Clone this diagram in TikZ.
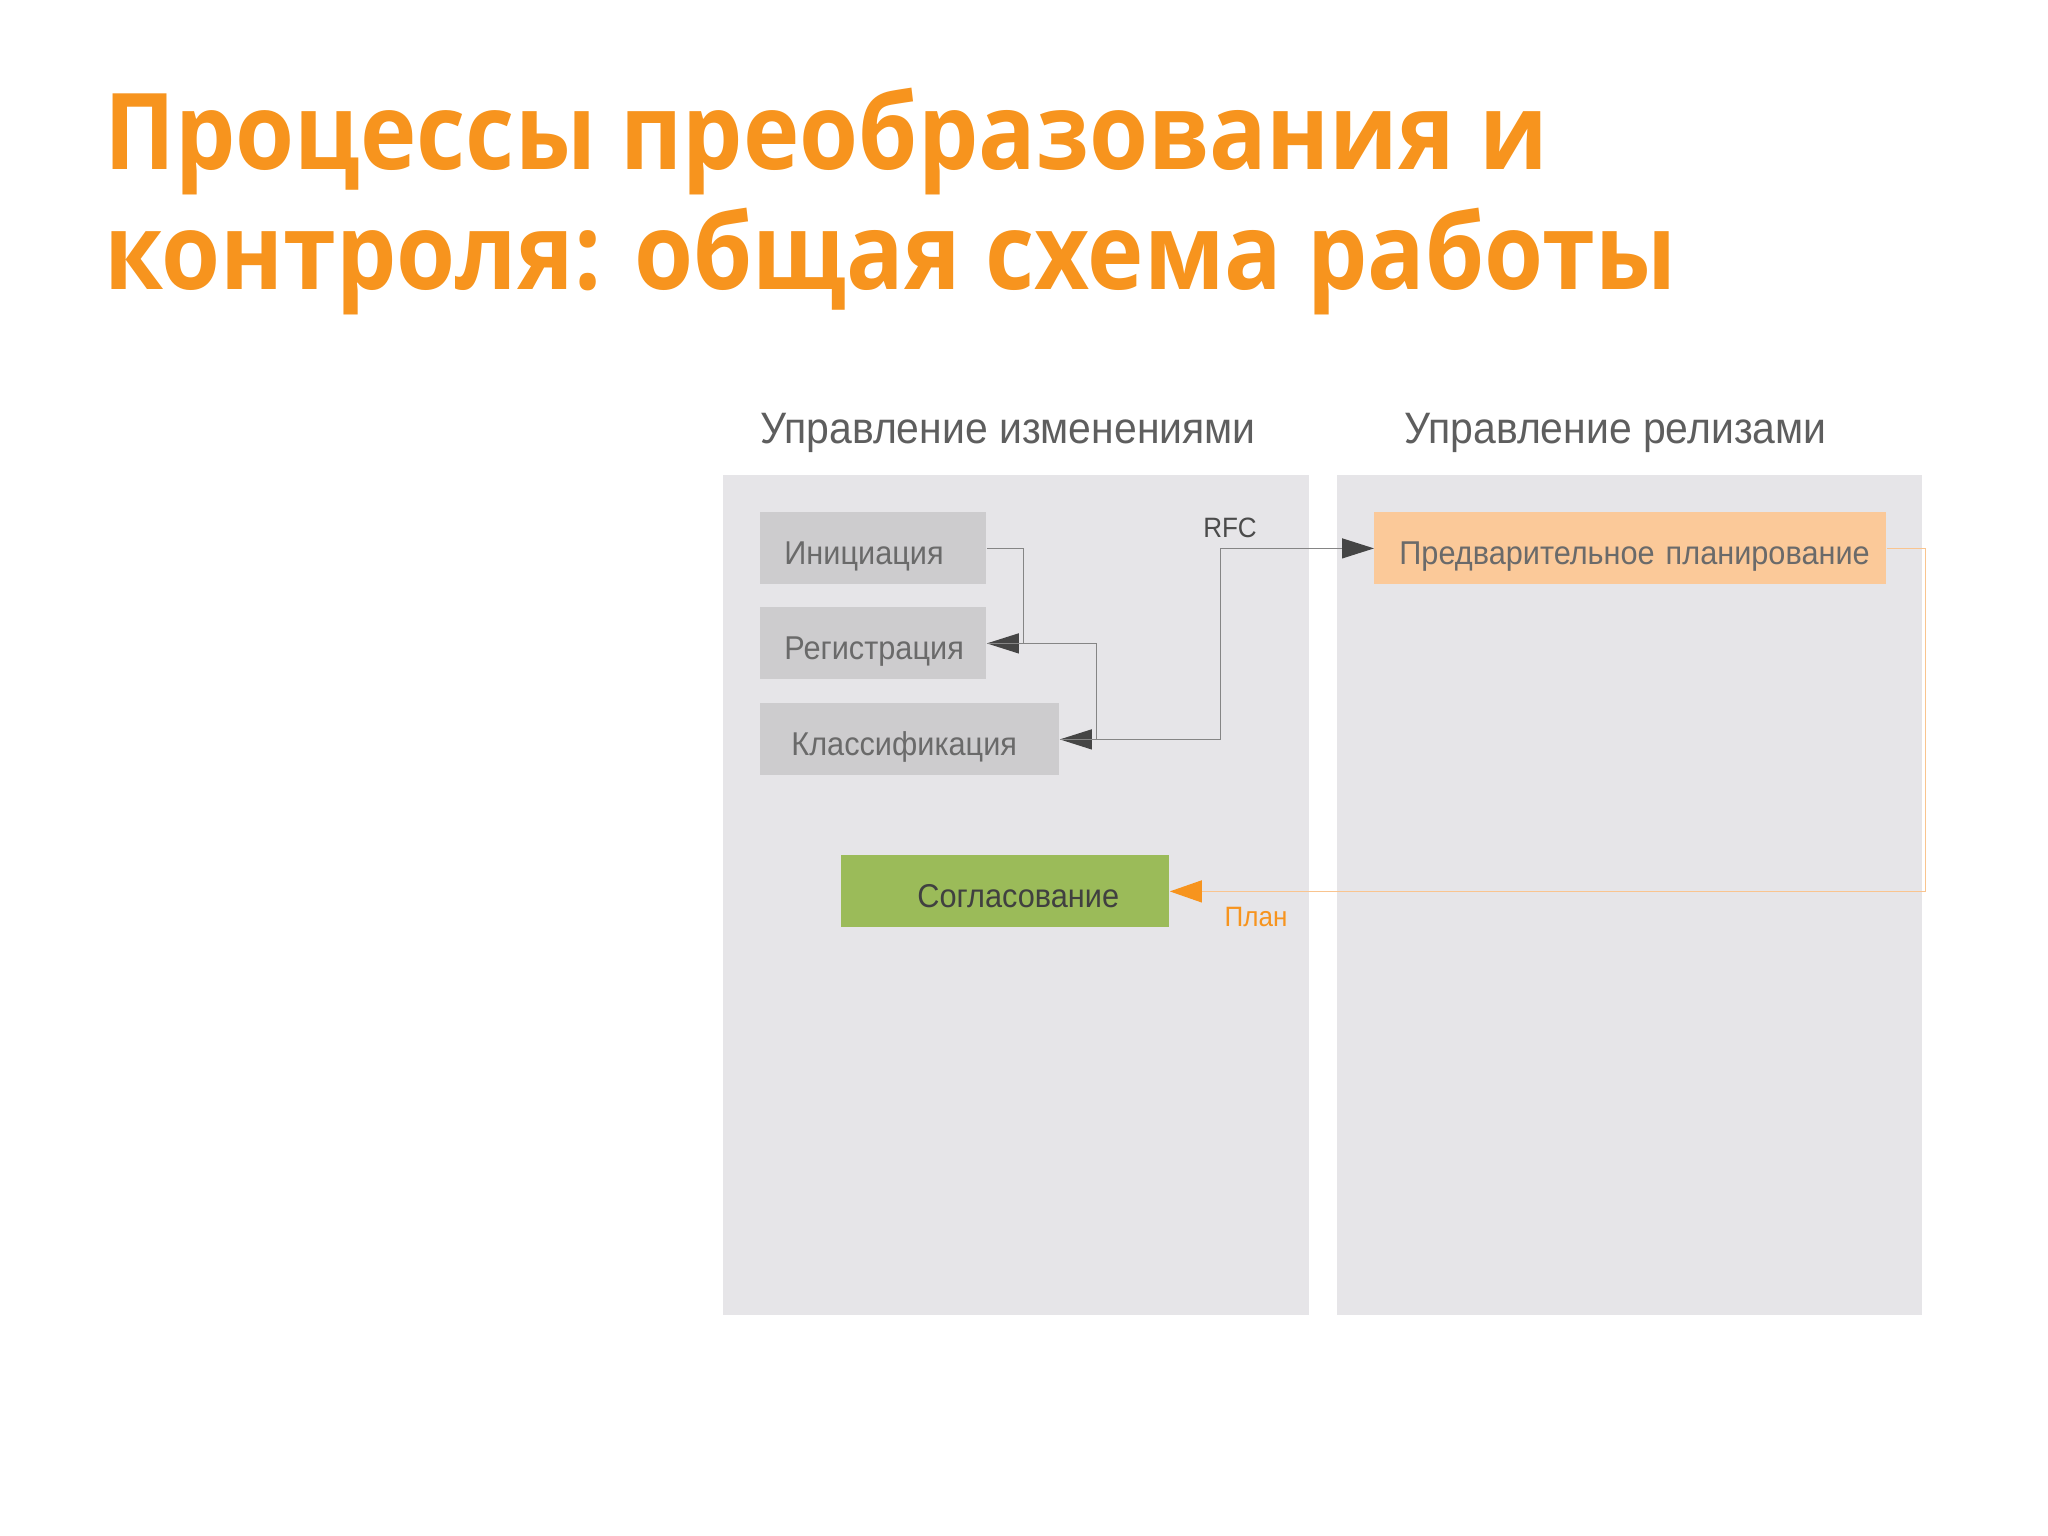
\documentclass[tikz,border=0pt]{standalone}
\usepackage{fontspec}
\setmainfont{Liberation Sans}[FakeStretch=0.93]
\newfontfamily\titlefont{Open Sans}[FakeStretch=0.9]
\usetikzlibrary{arrows.meta}
\definecolor{titleorange}{HTML}{F7941E}
\definecolor{panelgray}{HTML}{E6E5E8}
\definecolor{boxgray}{HTML}{CDCCCE}
\definecolor{boxtext}{HTML}{6A6A6A}
\definecolor{headtext}{HTML}{5E5E5E}
\definecolor{agreegreen}{HTML}{9BBB59}
\definecolor{prelimorange}{HTML}{FBC999}
\definecolor{linegray}{HTML}{858585}
\definecolor{arrowgray}{HTML}{454545}
\definecolor{planline}{HTML}{F9C48F}
\begin{document}
\begin{tikzpicture}[x=0.5pt, y=-0.5pt,
  titletext/.style={anchor=base west, inner sep=0pt, text=titleorange, font=\titlefont\bfseries\fontsize{53}{60}\selectfont},
  headtitle/.style={anchor=base west, inner sep=0pt, text=headtext, font=\fontsize{22}{26}\selectfont},
  procbox/.style={rectangle, anchor=north west, inner sep=0pt, minimum height=36pt, text height=16pt, text depth=0pt, align=left, text=boxtext, font=\fontsize{16.5}{19}\selectfont},
  flowarrow/.style={draw=linegray, line width=0.6pt, -{Triangle[length=16pt, width=10pt, color=arrowgray]}},
  planarrow/.style={draw=planline, line width=0.6pt, -{Triangle[length=16pt, width=11pt, color=titleorange]}},
  flowlabel/.style={inner sep=0pt, font=\fontsize{14}{16}\selectfont}]

\useasboundingbox [fill=white] (0,0) rectangle (2048,1535);

\node [titletext] (title1) at (104,170) {Процессы преобразования и};
\node [titletext] (title2) at (104,290) {контроля: общая схема работы};

\fill [panelgray] (723,475) rectangle (1309,1315);
\fill [panelgray] (1337,475) rectangle (1922,1315);

\node [headtitle] (changehead) at (760,443) {Управление изменениями};
\node [headtitle] (releasehead) at (1404,443) {Управление релизами};

\node [procbox, fill=boxgray, text width=113pt] (init) at (760,512) {\hspace*{12pt}Инициация};
\node [procbox, fill=boxgray, text width=113pt] (reg) at (760,607) {\hspace*{12pt}Регистрация};
\node [procbox, fill=boxgray, text width=149.5pt] (klass) at (760,703) {\hspace*{15.5pt}Классификация};
\node [procbox, fill=agreegreen, text width=164pt, text=black!75] (agree) at (841,855) {\hspace*{38pt}Согласование};
\node [procbox, fill=prelimorange, text width=256pt] (prelim) at (1374,512) {\hspace*{12.5pt}Предварительное планирование};

\draw [flowarrow] (init.east) -- ++(37,0) |- (reg.east);
\draw [flowarrow] (reg.east) -- ++(110,0) |- (klass.east);
\draw [flowarrow] (klass.east) -- ++(161,0) |- (prelim.west);
\draw [planarrow] (prelim.east) -- ++(39,0) |- (agree.east);

\node [flowlabel, text=headtext!80!black] (rfc) at (1230,528) {RFC};
\node [flowlabel, text=titleorange] (plan) at (1256,917) {План};

\end{tikzpicture}
\end{document}
